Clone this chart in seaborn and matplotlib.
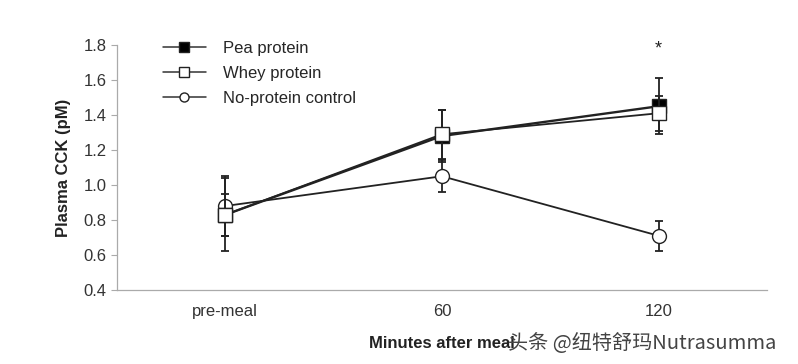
import numpy as np
import pandas as pd
import seaborn as sns
import matplotlib.pyplot as plt
from matplotlib.lines import Line2D

# valores
tiempos = ['pre-meal', '60', '120']
pea = [0.83, 1.28, 1.45]
pea_err = [0.12, 0.15, 0.16]
whey = [0.83, 1.29, 1.41]
whey_err = [0.21, 0.14, 0.10]
control = [0.88, 1.05, 0.71]
control_err = [0.17, 0.09, 0.085]
yticks = [0.4, 0.6, 0.8, 1.0, 1.2, 1.4, 1.6, 1.8]

sns.set_style('white')
plt.rcParams['font.family'] = ['Liberation Sans', 'DejaVu Sans']

df = pd.DataFrame({
    'tiempo': tiempos * 3,
    'cck': control + pea + whey,
    'err': control_err + pea_err + whey_err,
    'grupo': ['No-protein control'] * 3 + ['Pea protein'] * 3 + ['Whey protein'] * 3,
})

fig = plt.figure(figsize=(7.98, 3.64), dpi=100)
ax = fig.add_axes([0.1466, 0.2033, 0.8144, 0.6731])

estilos = {
    'No-protein control': dict(marker='o', mfc='white', lw=1.3),
    'Pea protein': dict(marker='s', mfc='black', lw=1.7),
    'Whey protein': dict(marker='s', mfc='white', lw=1.3),
}

x = np.arange(len(tiempos))
for i, (g, sub) in enumerate(df.groupby('grupo', sort=False)):
    st = estilos[g]
    ax.errorbar(x, sub['cck'], yerr=sub['err'], fmt='none', ecolor='#222222',
                elinewidth=1.3, capsize=3, capthick=1.3, zorder=2 + i)
    sns.lineplot(x=x, y=sub['cck'].values, ax=ax, color='#222222', lw=st['lw'],
                 marker=st['marker'], markersize=10, markerfacecolor=st['mfc'],
                 markeredgecolor='#222222', markeredgewidth=1.0, zorder=3 + i)

ax.text(2, 1.775, '*', ha='center', va='center', fontsize=13, color='#222222')

# leyenda manual
handles = [
    Line2D([], [], color='#333333', lw=1.1, marker='s', ms=6.5, mfc='black', mec='#222222'),
    Line2D([], [], color='#333333', lw=1.1, marker='s', ms=6.5, mfc='white', mec='#222222'),
    Line2D([], [], color='#333333', lw=1.1, marker='o', ms=6.5, mfc='white', mec='#222222'),
]
ax.legend(handles, ['Pea protein', 'Whey protein', 'No-protein control'],
          loc='upper left', bbox_to_anchor=(0.06, 1.045), frameon=False,
          fontsize=12, handlelength=2.6, handletextpad=1.0, labelspacing=0.62,
          borderaxespad=0)

ax.set_xlim(-0.5, 2.5)
ax.set_ylim(0.4, 1.8)
ax.set_yticks(yticks)
ax.set_yticklabels([f'{v:.1f}' for v in yticks])
ax.set_xticks(x)
ax.set_xticklabels(tiempos)
ax.set_xticks([0.5, 1.5, 2.5], minor=True)
ax.tick_params(axis='x', which='major', length=0, pad=10, labelsize=12, labelcolor='#333333')
ax.tick_params(axis='x', which='minor', length=4, width=0.8, color='#aaaaaa', direction='out')
ax.tick_params(axis='y', length=4, width=0.8, color='#aaaaaa', labelsize=12,
               labelcolor='#333333', direction='out', left=True)

sns.despine(ax=ax)
for s in ['left', 'bottom']:
    ax.spines[s].set_color('#aaaaaa')
    ax.spines[s].set_linewidth(0.9)

ax.set_ylabel('Plasma CCK (pM)', fontsize=12, fontweight='bold', color='#222222', labelpad=9)
ax.set_xlabel('Minutes after meal', fontsize=12, fontweight='bold', color='#222222', labelpad=12)

# marca de agua
fig.text(0.637, 0.055, '头条 @纽特舒玛Nutrasumma', fontsize=14.5, color='#444444',
         family=['Noto Sans CJK SC', 'DejaVu Sans'], fontweight='light',
         ha='left', va='center')

fig.savefig('out.png', dpi=100)
